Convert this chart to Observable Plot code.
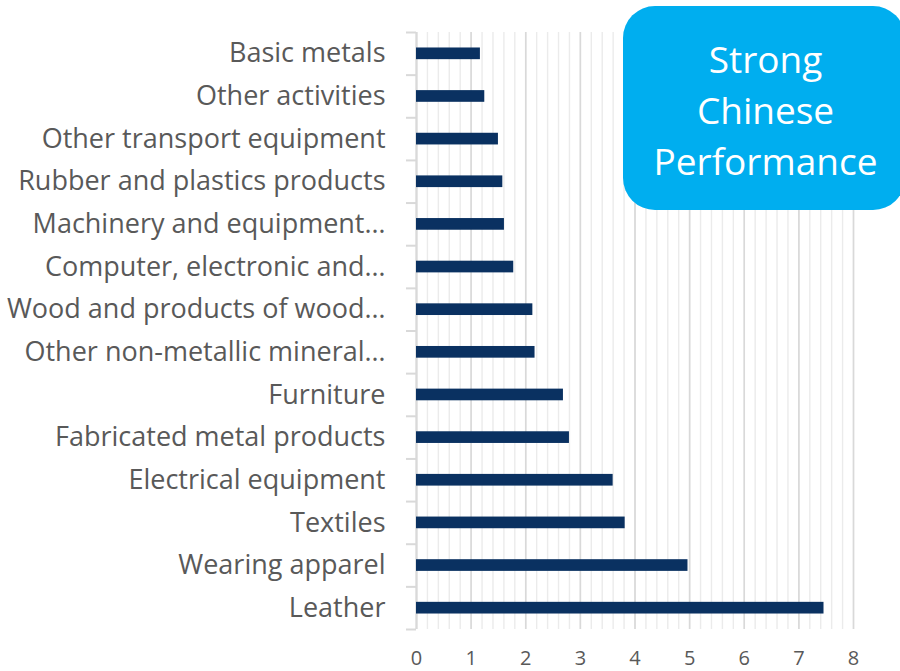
<!DOCTYPE html>
<html>
<head>
<meta charset="utf-8">
<script src="https://cdn.jsdelivr.net/npm/d3@7"></script>
<script src="https://cdn.jsdelivr.net/npm/@observablehq/plot@0.6"></script>
<style>
  html, body { margin: 0; padding: 0; background: #fff; overflow: hidden; }
  #wrap { position: relative; width: 900px; height: 671px; }
  #callout {
    position: absolute; left: 623px; top: 6px; width: 282px; height: 204px;
    background: #00aeef; border-radius: 32px; color: #fff;
    font-family: "Open Sans", sans-serif; font-size: 37px; line-height: 51px;
    text-align: center; box-sizing: border-box; padding-top: 27px; padding-left: 3px;
  }
</style>
</head>
<body>
<div id="wrap"><div id="callout">Strong<br>Chinese<br>Performance</div></div>
<script>
const categories = [
  "Basic metals",
  "Other activities",
  "Other transport equipment",
  "Rubber and plastics products",
  "Machinery and equipment…",
  "Computer, electronic and…",
  "Wood and products of wood…",
  "Other non-metallic mineral…",
  "Furniture",
  "Fabricated metal products",
  "Electrical equipment",
  "Textiles",
  "Wearing apparel",
  "Leather"
];
const values = [1.17, 1.25, 1.50, 1.58, 1.61, 1.78, 2.13, 2.17, 2.69, 2.80, 3.60, 3.82, 4.97, 7.46];
const xTicks = [0, 1, 2, 3, 4, 5, 6, 7, 8];

const data = categories.map((name, i) => ({name, i, value: values[i]}));
const minorTicks = d3.range(0, 8.001, 0.2).map(v => +v.toFixed(1));
const bandEdges = d3.range(0, categories.length + 1);

const chart = Plot.plot({
  width: 900,
  height: 671,
  marginLeft: 416,
  marginRight: 47,
  marginTop: 32,
  marginBottom: 42,
  style: {fontFamily: "'Open Sans', sans-serif", background: "transparent", overflow: "visible"},
  x: {domain: [0, 8], axis: null, label: null},
  y: {domain: [0, categories.length], reverse: true, axis: null, label: null},
  marks: [
    Plot.ruleX(minorTicks, {stroke: "#ebebeb", strokeWidth: 1.4}),
    Plot.ruleX(xTicks, {stroke: "#d9d9d9", strokeWidth: 1.6}),
    Plot.ruleX([0], {stroke: "#d9d9d9", strokeWidth: 2}),
    Plot.axisY(bandEdges, {tickSize: 10, tickFormat: () => "", stroke: "#d9d9d9", strokeWidth: 2, label: null}),
    Plot.axisY(data.map(d => d.i + 0.5), {
      tickSize: 0, tickPadding: 31, fontSize: 27, fill: "#595959", label: null,
      tickFormat: d => categories[Math.floor(d)]
    }),
    Plot.rectX(data, {
      x1: 0, x2: "value",
      y1: d => d.i + 0.363, y2: d => d.i + 0.637,
      fill: "#0a3161"
    }),
    Plot.axisX(xTicks, {tickSize: 0, tickPadding: 21, fontSize: 20, fill: "#595959", label: null, tickFormat: d => String(d)})
  ]
});
document.getElementById("wrap").prepend(chart);
chart.style.position = "absolute";
chart.style.left = "0";
chart.style.top = "0";
</script>
</body>
</html>
